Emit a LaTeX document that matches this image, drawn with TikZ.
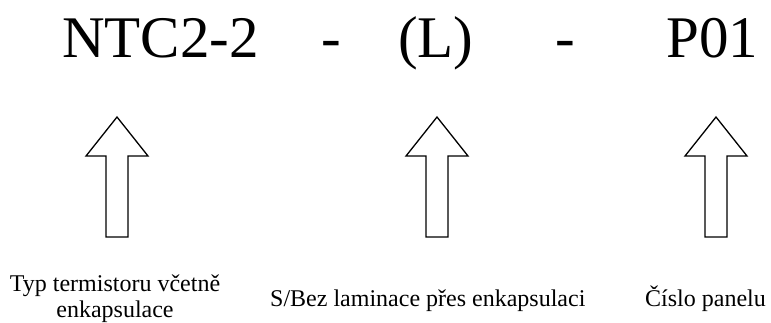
\documentclass[tikz,border=0pt]{standalone}
\usepackage{fontspec}
\setmainfont{Liberation Serif}
\begin{document}
\begin{tikzpicture}[x=1pt,y=1pt,
  big/.style={inner sep=0pt, font=\fontsize{59}{59}\selectfont, anchor=base west},
  lbl/.style={inner sep=0pt, font=\fontsize{24}{25.5}\selectfont, align=center},
  hollowarrow/.pic={\draw[line width=1.3pt, line join=miter, fill=white]
     (0,0) -- (31,-39) -- (11,-39) -- (11,-120) -- (-11,-120) -- (-11,-39) -- (-31,-39) -- cycle;}
]
\useasboundingbox (0,-322) rectangle (771,0);
\node[big] (ntc) at (62,-57) {NTC2-2};
\node[big] (d1) at (321,-57) {-};
\node[big] (l) at (398,-57) {(L)};
\node[big] (d2) at (555,-57) {-};
\node[big] (p) at (666,-57) {P01};
\pic at (117,-117) {hollowarrow};
\pic at (437,-117) {hollowarrow};
\pic at (716,-117) {hollowarrow};
\node[lbl] (t1) at (115,-298.5) {Typ termistoru včetně\\enkapsulace};
\node[lbl, anchor=base west] (t2) at (270,-306) {S/Bez laminace přes enkapsulaci};
\node[lbl, anchor=base west] (t3) at (645,-306) {Číslo panelu};
\end{tikzpicture}
\end{document}
